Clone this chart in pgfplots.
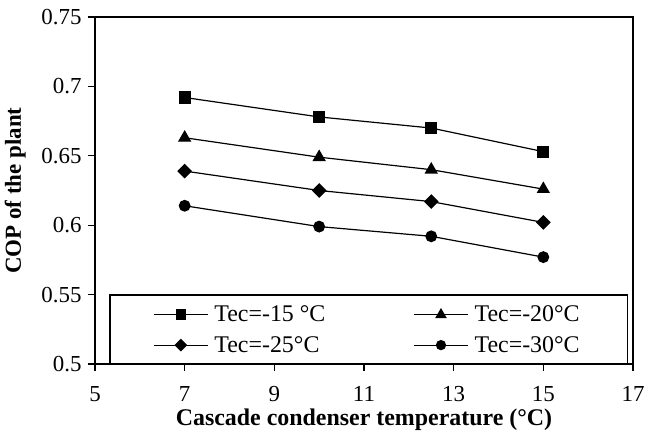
\documentclass[border=0pt]{standalone}
\usepackage{fontspec}
\setmainfont{Liberation Serif}
\usepackage{pgfplots}
\pgfplotsset{compat=1.18}
\begin{document}
\begin{tikzpicture}
\useasboundingbox (-95bp,-70bp) rectangle (561bp,364bp);
\begin{axis}[
  at={(0bp,0bp)}, anchor=south west,
  scale only axis, width=538bp, height=347bp,
  xmin=5, xmax=17, ymin=0.5, ymax=0.75,
  xtick={5,7,9,11,13,15,17},
  ytick={0.5,0.55,0.6,0.65,0.7,0.75},
  yticklabels={0.5,0.55,0.6,0.65,0.7,0.75},
  xticklabels={5,7,9,11,13,15,17},
  tick pos=left, tick align=outside, major tick length=7bp,
  tick style={line width=1.2bp, black},
  axis line style={line width=1.5bp},
  ticklabel style={font=\fontsize{23}{26}\selectfont},
  xticklabel style={yshift=-12bp},
  yticklabel style={xshift=-3bp},
  every axis y label/.style={at={(axis description cs:0,0.5)}, xshift=-74bp, rotate=90, anchor=base},
  every axis x label/.style={at={(axis description cs:0.5,0)}, yshift=-61bp, anchor=base},
  ylabel={\fontsize{23}{26}\selectfont\bfseries COP of the plant},
  xlabel={\fontsize{24}{27}\selectfont\bfseries Cascade condenser temperature (°C)},
  legend columns=2,
  legend cell align=left,
  legend image code/.code={\draw[mark repeat=2,mark phase=2,#1, every mark/.append style={scale=0.85}] plot coordinates {(0bp,0bp) (27bp,0bp) (54bp,0bp)};},
  legend style={draw=none, fill=none, inner sep=0pt, font=\fontsize{24}{27}\selectfont,
    at={(axis description cs:0,0)}, anchor=south west, xshift=58bp, yshift=8bp,
    row sep=9bp,
    /tikz/every odd column/.append style={column sep=4bp},
    /tikz/every even column/.append style={column sep=86bp}},
  every axis plot/.append style={black, line width=1.2bp, mark options={solid, fill=black}},
]
\addplot[mark=square*, mark size=5.5bp] coordinates {(7,0.692) (10,0.678) (12.5,0.670) (15,0.653)};
\addlegendentry{Tec=-15 °C}
\addplot[mark=triangle*, mark size=6.5bp] coordinates {(7,0.663) (10,0.649) (12.5,0.640) (15,0.626)};
\addlegendentry{Tec=-20°C}
\addplot[mark=square*, mark size=4.6bp, mark options={rotate=45}] coordinates {(7,0.639) (10,0.625) (12.5,0.617) (15,0.602)};
\addlegendentry{Tec=-25°C}
\addplot[mark=*, mark size=5.3bp] coordinates {(7,0.614) (10,0.599) (12.5,0.592) (15,0.577)};
\addlegendentry{Tec=-30°C}
\draw[line width=1.2bp] (axis cs:5.335,0.5) rectangle (axis cs:16.87,0.5497);
\end{axis}
\end{tikzpicture}
\end{document}
